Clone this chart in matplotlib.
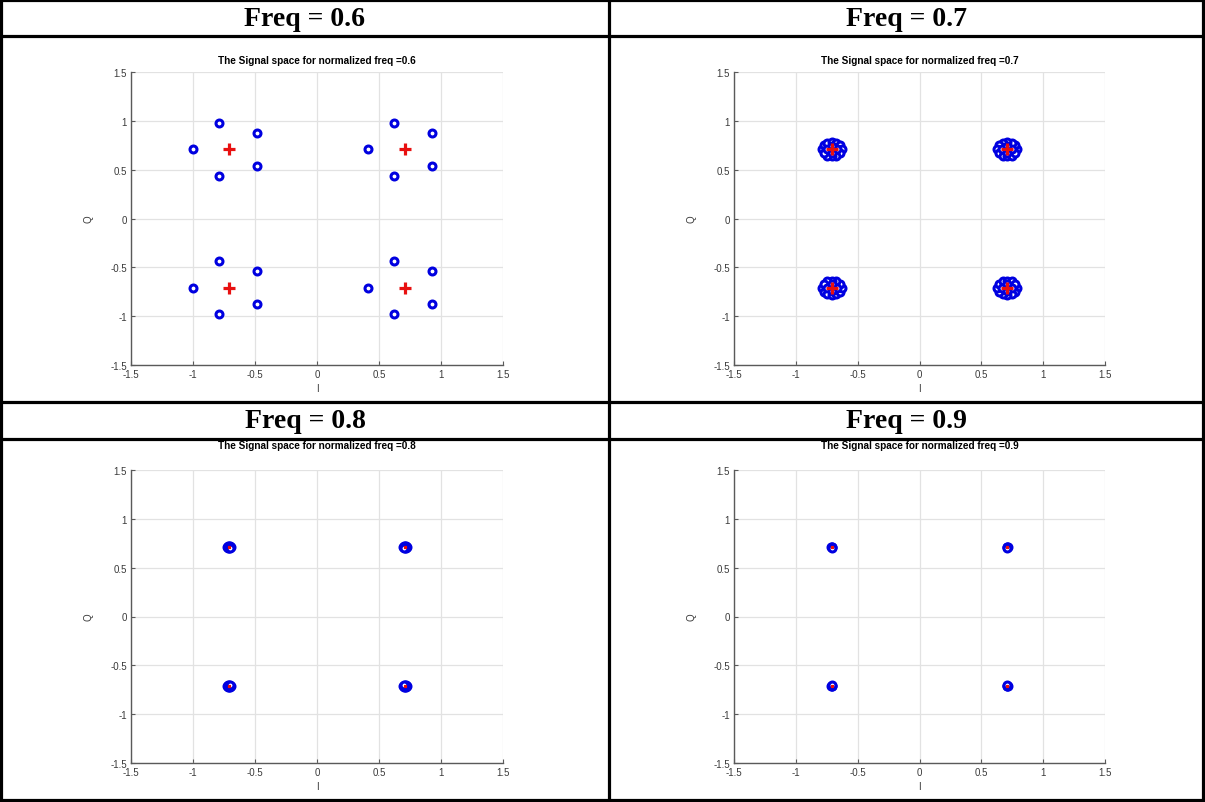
import matplotlib
matplotlib.use("Agg")
import matplotlib.pyplot as plt
from matplotlib.lines import Line2D
from matplotlib.ticker import FormatStrFormatter

plt.rcParams['axes.unicode_minus'] = False

W, H = 1205, 803

headers = ["Freq = 0.6", "Freq = 0.7", "Freq = 0.8", "Freq = 0.9"]
titles = ["The Signal space for normalized freq =0.6",
          "The Signal space for normalized freq =0.7",
          "The Signal space for normalized freq =0.8",
          "The Signal space for normalized freq =0.9"]
ticks = [-1.5, -1, -0.5, 0, 0.5, 1, 1.5]

# ideal QPSK reference points (red +)
ref_i = [0.71, -0.71, 0.71, -0.71]
ref_q = [0.71, 0.71, -0.71, -0.71]

# received points, freq 0.6
i06 = [-1.00, -0.79, -0.48, -0.48, -0.79,
       0.41, 0.62, 0.93, 0.93, 0.62,
       -1.00, -0.79, -0.48, -0.48, -0.79,
       0.41, 0.62, 0.93, 0.93, 0.62]
q06 = [0.71, 0.98, 0.88, 0.54, 0.44,
       0.71, 0.98, 0.88, 0.54, 0.44,
       -0.71, -0.44, -0.54, -0.88, -0.98,
       -0.71, -0.44, -0.54, -0.88, -0.98]

# received points, freq 0.7
i07 = [0.79, 0.776, 0.745, 0.71, 0.675, 0.644, 0.63, 0.644, 0.675, 0.71, 0.745, 0.776, 0.75, 0.67, 0.71, 0.71,
       -0.79, -0.776, -0.745, -0.71, -0.675, -0.644, -0.63, -0.644, -0.675, -0.71, -0.745, -0.776, -0.75, -0.67, -0.71, -0.71,
       0.79, 0.776, 0.745, 0.71, 0.675, 0.644, 0.63, 0.644, 0.675, 0.71, 0.745, 0.776, 0.75, 0.67, 0.71, 0.71,
       -0.79, -0.776, -0.745, -0.71, -0.675, -0.644, -0.63, -0.644, -0.675, -0.71, -0.745, -0.776, -0.75, -0.67, -0.71, -0.71]
q07 = [0.71, 0.748, 0.775, 0.785, 0.775, 0.748, 0.71, 0.672, 0.645, 0.635, 0.645, 0.672, 0.71, 0.71, 0.745, 0.675,
       0.71, 0.748, 0.775, 0.785, 0.775, 0.748, 0.71, 0.672, 0.645, 0.635, 0.645, 0.672, 0.71, 0.71, 0.745, 0.675,
       -0.71, -0.748, -0.775, -0.785, -0.775, -0.748, -0.71, -0.672, -0.645, -0.635, -0.645, -0.672, -0.71, -0.71, -0.745, -0.675,
       -0.71, -0.748, -0.775, -0.785, -0.775, -0.748, -0.71, -0.672, -0.645, -0.635, -0.645, -0.672, -0.71, -0.71, -0.745, -0.675]

# received points, freq 0.8
i08 = [0.725, 0.695, 0.71, 0.71, 0.72, 0.70, 0.72, 0.70,
       -0.725, -0.695, -0.71, -0.71, -0.72, -0.70, -0.72, -0.70,
       0.725, 0.695, 0.71, 0.71, 0.72, 0.70, 0.72, 0.70,
       -0.725, -0.695, -0.71, -0.71, -0.72, -0.70, -0.72, -0.70]
q08 = [0.71, 0.71, 0.723, 0.697, 0.72, 0.72, 0.70, 0.70,
       0.71, 0.71, 0.723, 0.697, 0.72, 0.72, 0.70, 0.70,
       -0.71, -0.71, -0.723, -0.697, -0.72, -0.72, -0.70, -0.70,
       -0.71, -0.71, -0.723, -0.697, -0.72, -0.72, -0.70, -0.70]

# received points, freq 0.9
i09 = [0.716, 0.704, 0.71, 0.71, -0.716, -0.704, -0.71, -0.71,
       0.716, 0.704, 0.71, 0.71, -0.716, -0.704, -0.71, -0.71]
q09 = [0.71, 0.71, 0.716, 0.704, 0.71, 0.71, 0.716, 0.704,
       -0.71, -0.71, -0.716, -0.704, -0.71, -0.71, -0.716, -0.704]

data = [(i06, q06), (i07, q07), (i08, q08), (i09, q09)]
red_size = [8, 8, 1.5, 1.5]

fig = plt.figure(figsize=(W / 100, H / 100), dpi=100)
fig.patch.set_facecolor('white')

def fx(x):
    return x / W

def fy(y):
    return 1 - y / H

# table lines
lw = 2.3
def hline(y, x0=1, x1=1203):
    fig.add_artist(Line2D([fx(x0), fx(x1)], [fy(y), fy(y)], color='black', lw=lw))

def vline(x, y0=1, y1=801):
    fig.add_artist(Line2D([fx(x), fx(x)], [fy(y0), fy(y1)], color='black', lw=lw))

for y in [1, 37, 403, 440, 801]:
    hline(y)
for x in [1, 609, 1203]:
    vline(x)

header_pos = [(305, 19), (906, 19), (305, 422), (906, 422)]
axes_px = [(131, 73, 503, 366), (734, 73, 1105, 366),
           (131, 471, 503, 764), (734, 471, 1105, 764)]
title_y = [61, 61, 446, 446]

grey = '#5a5a5a'
for k in range(4):
    hx, hy = header_pos[k]
    fig.text(fx(hx), fy(hy), headers[k], ha='center', va='center',
             family='Liberation Serif', weight='bold', fontsize=20)
    x0, y0, x1, y1 = axes_px[k]
    ax = fig.add_axes([fx(x0), fy(y1), (x1 - x0) / W, (y1 - y0) / H])
    ax.set_xlim(-1.5, 1.5)
    ax.set_ylim(-1.5, 1.5)
    ax.set_xticks(ticks)
    ax.set_yticks(ticks)
    ax.xaxis.set_major_formatter(FormatStrFormatter('%g'))
    ax.yaxis.set_major_formatter(FormatStrFormatter('%g'))
    ax.grid(True, color='#e2e2e2', lw=0.9)
    ax.set_axisbelow(True)
    for s in ['top', 'right']:
        ax.spines[s].set_visible(False)
    for s in ['left', 'bottom']:
        ax.spines[s].set_color(grey)
        ax.spines[s].set_linewidth(1.0)
    ax.tick_params(direction='in', length=3, width=0.8, color=grey,
                   labelsize=7, labelcolor='#3a3a3a', pad=3)
    for lab in ax.get_xticklabels() + ax.get_yticklabels():
        lab.set_family('Liberation Sans')
    ax.set_xlabel('I', fontsize=7, color='#3a3a3a', family='Liberation Sans', labelpad=3)
    ax.set_ylabel('Q', fontsize=7, color='#3a3a3a', family='Liberation Sans', labelpad=12)
    xi, yq = data[k]
    ax.plot(xi, yq, 'o', ls='none', mfc='white', mec='#0000e0', ms=5.0, mew=2.2,
            clip_on=False)
    ax.plot(ref_i, ref_q, '+', ls='none', color='#e81010', ms=red_size[k], mew=2.3,
            clip_on=False)
    fig.text(fx((x0 + x1) / 2), fy(title_y[k]), titles[k], ha='center', va='center',
             family='Liberation Sans', weight='bold', fontsize=7.2, color='black')

fig.savefig('out.png', dpi=100, facecolor='white')
